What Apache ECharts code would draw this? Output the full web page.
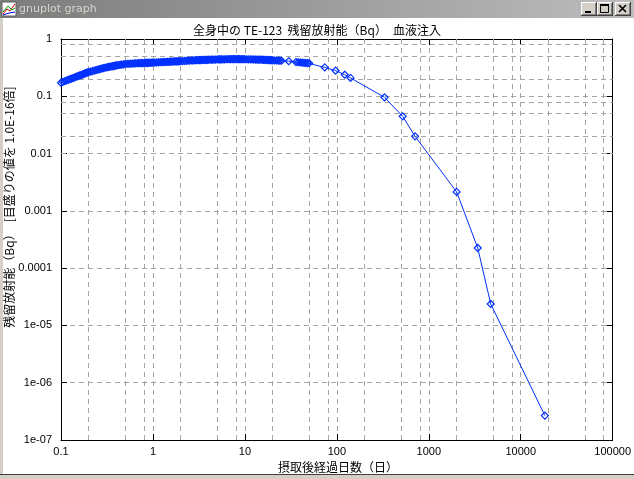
<!DOCTYPE html>
<html><head><meta charset="utf-8">
<script src="https://cdn.jsdelivr.net/npm/echarts@6/dist/echarts.min.js"></script>
<style>html,body{margin:0;padding:0;background:#fff;overflow:hidden}#c{width:634px;height:479px}</style>
</head><body><div id="c"></div>
<script>
// ---- data ----
const days = [
  0.100,0.105,0.110,0.115,0.120,0.125,0.130,0.135,0.140,0.145,
  0.150,0.155,0.160,0.165,0.170,0.175,0.180,0.185,0.190,0.195,
  0.20,0.21,0.22,0.23,0.24,0.25,0.26,0.27,0.28,0.29,
  0.30,0.31,0.32,0.33,0.34,0.35,0.36,0.37,0.38,0.39,
  0.40,0.415,0.43,0.445,0.46,0.48,
  0.500,0.525,0.550,0.575,0.600,0.625,0.650,0.675,0.700,0.725,
  0.750,0.775,0.800,0.825,0.850,0.875,0.900,0.925,0.950,0.975,
  1.00,1.05,1.10,1.15,1.20,1.25,1.30,1.35,1.40,1.45,
  1.50,1.55,1.60,1.65,1.70,1.75,1.80,1.85,1.90,1.95,
  2.0,2.1,2.2,2.3,2.4,2.5,2.6,2.7,2.8,2.9,
  3.0,3.1,3.2,3.3,3.4,3.5,3.6,3.7,3.8,3.9,
  4.0,4.15,4.3,4.45,4.6,4.8,
  5.0,5.15,5.3,5.45,5.6,5.8,6.0,6.25,6.5,6.75,
  7.0,7.25,7.5,7.75,8.0,8.25,8.5,8.75,9.0,9.25,9.5,9.75,
  10,10.5,11,11.5,12,12.5,13,13.5,14,14.5,
  15,15.5,16,16.5,17,17.5,18,18.5,19,19.5,
  20,21,22,23,24,25,
  30,
  36,38,40,42,44,46,48,50,
  74,97,122,141,330,521,710,2010,3410,4720,18300
];
const activity = [
  0.173,0.178,0.183,0.189,0.194,0.199,0.203,0.208,0.213,0.218,
  0.222,0.227,0.231,0.235,0.239,0.244,0.248,0.253,0.257,0.261,
  0.265,0.270,0.275,0.281,0.286,0.291,0.296,0.301,0.306,0.311,
  0.315,0.318,0.321,0.325,0.328,0.331,0.334,0.337,0.340,0.343,
  0.346,0.349,0.352,0.355,0.358,0.362,
  0.366,0.368,0.369,0.371,0.372,0.374,0.376,0.377,0.378,0.379,
  0.379,0.380,0.381,0.382,0.383,0.384,0.384,0.385,0.385,0.386,
  0.386,0.388,0.390,0.392,0.393,0.395,0.396,0.397,0.398,0.399,
  0.400,0.402,0.403,0.404,0.405,0.406,0.407,0.408,0.408,0.409,
  0.410,0.412,0.414,0.416,0.418,0.420,0.421,0.423,0.424,0.426,
  0.427,0.428,0.428,0.429,0.430,0.431,0.431,0.432,0.432,0.433,
  0.434,0.435,0.435,0.436,0.437,0.438,
  0.439,0.440,0.440,0.441,0.441,0.442,0.442,0.443,0.443,0.444,
  0.444,0.444,0.444,0.444,0.444,0.444,0.444,0.444,0.443,0.443,0.443,0.443,
  0.443,0.442,0.442,0.441,0.440,0.439,0.438,0.437,0.436,0.436,
  0.435,0.434,0.433,0.432,0.431,0.430,0.429,0.428,0.427,0.426,
  0.425,0.423,0.421,0.420,0.418,0.417,
  0.409,
  0.396,0.393,0.389,0.386,0.384,0.382,0.380,0.378,
  0.319,0.280,0.238,0.209,0.096,0.0446,0.0200,0.00214,0.000225,0.0000237,0.000000267
];
const xTickLabels = ['0.1','1','10','100','1000','10000','100000'];
const yTickLabels = ['1e-07','1e-06','1e-05','0.0001','0.001','0.01','0.1','1'];
const xMinorGrid = [0.2,0.5,0.8, 2,5,8, 20,50,80, 200,500,800, 2000,5000,8000, 20000,50000,80000];
const yMinorGrid = [2e-7,5e-7,8e-7, 2e-6,5e-6,8e-6, 2e-5,5e-5,8e-5, 2e-4,5e-4,8e-4, 0.002,0.005,0.008, 0.02,0.05,0.08, 0.2,0.5,0.8];
const titleText = '全身中の TE-123  残留放射能（Bq）　血液注入';
const xName = '摂取後経過日数（日）';
const yName = '残留放射能（Bq）　[目盛りの値を 1.0E-16倍]';

// ---- styles ----
const BLUE = '#0030ff';
const GRID_GRAY = '#a4a4a4';
const NUM_FONT = '"Liberation Sans", Arial, sans-serif';
const JP_FONT = '"Noto Sans CJK JP", sans-serif';
const gridLine = { color: GRID_GRAY, width: 1, type: [5, 4] };

function bevelButton(x, y) {
  return [
    { type: 'rect', shape: { x: x, y: y, width: 16, height: 14 }, style: { fill: '#404040' } },
    { type: 'rect', shape: { x: x, y: y, width: 15, height: 13 }, style: { fill: '#ffffff' } },
    { type: 'rect', shape: { x: x + 1, y: y + 1, width: 14, height: 12 }, style: { fill: '#808080' } },
    { type: 'rect', shape: { x: x + 1, y: y + 1, width: 13, height: 11 }, style: { fill: '#d4d0c8' } }
  ];
}
const bx1 = 581, bx2 = 597, bx3 = 615, by = 2;
const frame = [].concat(
  [
    { type: 'rect', shape: { x: 0, y: 0, width: 634, height: 18 },
      style: { fill: { type: 'linear', x: 0, y: 0, x2: 1, y2: 0,
        colorStops: [{ offset: 0, color: '#7c7c7c' }, { offset: 1, color: '#bcbcbc' }] } } },
    { type: 'rect', shape: { x: 0, y: 18, width: 3, height: 461 }, style: { fill: '#d4d0c8' } },
    { type: 'rect', shape: { x: 0, y: 474, width: 634, height: 1 }, style: { fill: '#404040' } },
    { type: 'rect', shape: { x: 0, y: 475, width: 634, height: 4 }, style: { fill: '#d4d0c8' } },
    // icon
    { type: 'rect', shape: { x: 2, y: 2, width: 14, height: 14 }, style: { fill: '#ffffff', stroke: '#606060', lineWidth: 1 } },
    { type: 'polyline', shape: { points: [[3, 14], [7, 9], [10, 11], [15, 4]] }, style: { stroke: '#e00000', lineWidth: 1, fill: null } },
    { type: 'polyline', shape: { points: [[3, 12], [8, 6], [12, 10], [15, 8]] }, style: { stroke: '#00a000', lineWidth: 1, fill: null } },
    { type: 'polyline', shape: { points: [[3, 15], [9, 13], [15, 12]] }, style: { stroke: '#0000e0', lineWidth: 1, fill: null } },
    { type: 'text', x: 19, y: 9, style: { text: 'gnuplot graph', fill: '#d8d4cc', font: '11px "DejaVu Sans", sans-serif', textAlign: 'left', textVerticalAlign: 'middle' } }
  ],
  bevelButton(bx1, by), bevelButton(bx2, by), bevelButton(bx3, by),
  [
    { type: 'rect', shape: { x: bx1 + 4, y: by + 9, width: 6, height: 2 }, style: { fill: '#000' } },
    { type: 'rect', shape: { x: bx2 + 3.5, y: by + 2.5, width: 8, height: 8 }, style: { fill: null, stroke: '#000', lineWidth: 1 } },
    { type: 'rect', shape: { x: bx2 + 3, y: by + 2, width: 9, height: 2 }, style: { fill: '#000' } },
    { type: 'line', shape: { x1: bx3 + 4, y1: by + 3, x2: bx3 + 11, y2: by + 10 }, style: { stroke: '#000', lineWidth: 1.6 } },
    { type: 'line', shape: { x1: bx3 + 11, y1: by + 3, x2: bx3 + 4, y2: by + 10 }, style: { stroke: '#000', lineWidth: 1.6 } },
    // axis names
    { type: 'text', x: 338, y: 467, style: { text: xName, fill: '#000', font: '12px ' + JP_FONT, textAlign: 'center', textVerticalAlign: 'middle' } },
    { type: 'text', x: 9, y: 207, rotation: Math.PI / 2, style: { text: yName, fill: '#000', font: '12px ' + JP_FONT, textAlign: 'center', textVerticalAlign: 'middle' } }
  ]
);

const chart = echarts.init(document.getElementById('c'), null, { renderer: 'canvas' });
const xBase = { type: 'log', logBase: 10, min: 0.1, max: 100000, splitNumber: 6 };
const yBase = { type: 'log', logBase: 10, min: 1e-7, max: 1, splitNumber: 7 };
chart.setOption({
  animation: false,
  backgroundColor: '#ffffff',
  title: { text: titleText, left: 'center', top: 19,
    textStyle: { fontFamily: JP_FONT, fontSize: 12, fontWeight: 'normal', color: '#000' } },
  grid: { left: 61, right: 20, top: 39, bottom: 39, containLabel: false },
  xAxis: [
    Object.assign({}, xBase, {
      position: 'bottom',
      axisLine: { show: true, lineStyle: { color: '#000', width: 1 } },
      axisTick: { show: true, inside: true, length: 6, lineStyle: { color: '#000' } },
      axisLabel: { show: true, margin: 6, color: '#000', fontFamily: NUM_FONT, fontSize: 11,
        formatter: v => xTickLabels[Math.round(Math.log10(v)) + 1] },
      splitLine: { show: true, lineStyle: gridLine },
      minorTick: { show: false }, minorSplitLine: { show: false }
    }),
    Object.assign({}, xBase, {
      position: 'top',
      axisLine: { show: true, lineStyle: { color: '#000', width: 1 } },
      axisTick: { show: true, inside: true, length: 6, lineStyle: { color: '#000' } },
      axisLabel: { show: false }, splitLine: { show: false }
    })
  ],
  yAxis: [
    Object.assign({}, yBase, {
      position: 'left',
      axisLine: { show: true, lineStyle: { color: '#000', width: 1 } },
      axisTick: { show: true, inside: true, length: 6, lineStyle: { color: '#000' } },
      axisLabel: { show: true, margin: 9, color: '#000', fontFamily: NUM_FONT, fontSize: 11,
        formatter: v => yTickLabels[Math.round(Math.log10(v)) + 7] },
      splitLine: { show: true, lineStyle: gridLine },
      minorTick: { show: false }, minorSplitLine: { show: false }
    }),
    Object.assign({}, yBase, {
      position: 'right',
      axisLine: { show: true, lineStyle: { color: '#000', width: 1 } },
      axisTick: { show: true, inside: true, length: 6, lineStyle: { color: '#000' } },
      axisLabel: { show: false }, splitLine: { show: false }
    })
  ],
  graphic: { elements: frame },
  series: [
    {
      type: 'line', name: 'minor-grid', data: [], z: 1, silent: true,
      markLine: {
        silent: true, animation: false, symbol: ['none', 'none'],
        label: { show: false }, emphasis: { disabled: true },
        lineStyle: gridLine,
        data: xMinorGrid.map(v => ({ xAxis: v })).concat(yMinorGrid.map(v => ({ yAxis: v })))
      }
    },
    {
      type: 'line', name: 'TE-123', z: 5,
      data: days.map((d, i) => [d, activity[i]]),
      symbol: 'diamond', symbolSize: 7, showAllSymbol: true,
      itemStyle: { color: 'rgba(0,0,0,0)', borderColor: BLUE, borderWidth: 1.2 },
      lineStyle: { color: BLUE, width: 1 },
      emphasis: { disabled: true }, silent: true
    }
  ]
});
</script>
</body></html>
